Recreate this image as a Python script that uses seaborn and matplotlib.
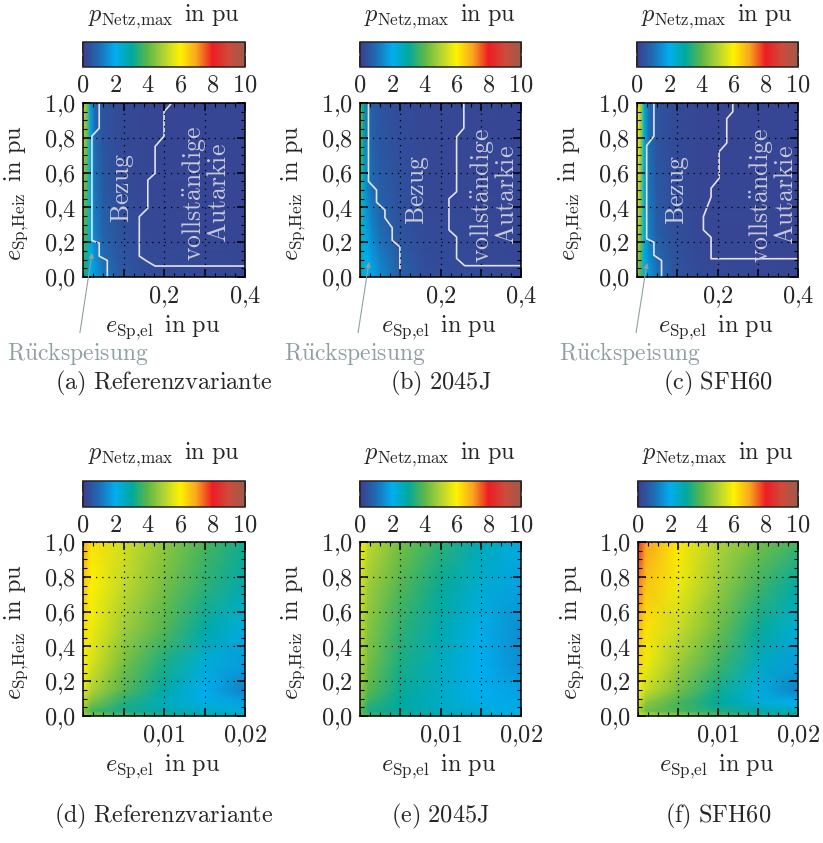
import numpy as np
import pandas as pd
import matplotlib
matplotlib.use("Agg")
import matplotlib.pyplot as plt
import seaborn as sns
from matplotlib.colors import LinearSegmentedColormap
from matplotlib.ticker import FixedLocator, AutoMinorLocator

# ---------------- data ----------------
# colour scale
cbar_ticks = [0, 2, 4, 6, 8, 10]
cmap_nodes = [0, 1, 2, 3, 4, 5, 6, 7, 8, 9, 10]
cmap_hex = ["#3c3d8d", "#1e6db3", "#00aeef", "#00a99d", "#5cb748", "#b2d235",
            "#fff200", "#f9a51e", "#ed1c24", "#cf4a3a", "#9d5b4a"]

# top row grid (x = e_Sp,el, y = e_Sp,Heiz)
top_x = [0, 0.008, 0.018, 0.03, 0.05, 0.09, 0.16, 0.4]
top_y = [0, 0.1, 0.25, 0.5, 0.75, 1.0]
# rows: y from bottom to top, columns: x
p_ref_top = [
    [3.5, 3.0, 2.1, 1.7, 1.2, 0.65, 0.35, 0.2],
    [3.6, 3.2, 2.1, 1.6, 1.0, 0.55, 0.30, 0.2],
    [4.0, 3.6, 2.1, 1.3, 0.8, 0.45, 0.25, 0.2],
    [4.4, 4.0, 2.0, 1.1, 0.6, 0.35, 0.22, 0.2],
    [4.8, 4.3, 1.9, 1.0, 0.5, 0.30, 0.20, 0.2],
    [5.1, 4.6, 1.8, 0.9, 0.45, 0.30, 0.20, 0.2],
]
p_2045_top = [
    [3.0, 2.3, 2.1, 1.9, 1.5, 0.85, 0.40, 0.2],
    [3.2, 2.3, 2.0, 1.7, 1.3, 0.75, 0.35, 0.2],
    [3.5, 2.3, 1.8, 1.4, 1.0, 0.55, 0.30, 0.2],
    [3.8, 2.5, 1.4, 1.0, 0.7, 0.45, 0.25, 0.2],
    [4.2, 2.9, 1.2, 0.8, 0.55, 0.40, 0.25, 0.2],
    [4.4, 3.1, 1.1, 0.7, 0.5, 0.35, 0.25, 0.2],
]
p_sfh_top = [
    [4.6, 3.9, 2.1, 1.7, 1.1, 0.55, 0.30, 0.2],
    [4.9, 4.1, 2.2, 1.5, 0.9, 0.45, 0.25, 0.2],
    [5.3, 4.5, 2.3, 1.3, 0.7, 0.40, 0.22, 0.2],
    [5.6, 4.8, 2.3, 1.1, 0.6, 0.35, 0.20, 0.2],
    [5.9, 5.0, 2.3, 1.0, 0.5, 0.30, 0.20, 0.2],
    [6.1, 5.2, 2.3, 1.0, 0.5, 0.30, 0.20, 0.2],
]

# bottom row grid (zoomed x range)
bot_x = [0, 0.001, 0.005, 0.01, 0.015, 0.02]
bot_y = [0, 0.03, 0.08, 0.15, 0.3, 0.5, 0.75, 1.0]
p_ref_bot = [
    [5.0, 4.6, 4.0, 3.4, 2.9, 2.5],
    [4.5, 3.8, 3.2, 2.8, 2.5, 2.3],
    [5.2, 4.4, 3.4, 2.6, 2.1, 1.8],
    [5.7, 5.0, 3.9, 2.9, 2.0, 1.3],
    [6.0, 5.5, 4.3, 3.3, 2.3, 1.7],
    [6.3, 5.8, 4.8, 3.9, 2.9, 2.2],
    [6.6, 6.0, 5.2, 4.3, 3.5, 2.8],
    [7.0, 6.2, 5.4, 4.6, 3.8, 3.2],
]
p_2045_bot = [
    [4.3, 3.8, 3.3, 2.8, 2.4, 2.2],
    [4.0, 3.3, 3.0, 2.6, 2.3, 2.1],
    [4.5, 3.6, 3.0, 2.5, 2.1, 1.9],
    [4.7, 4.0, 3.1, 2.5, 2.0, 1.8],
    [5.0, 4.3, 3.3, 2.6, 2.0, 1.5],
    [5.2, 4.5, 3.5, 2.8, 2.1, 1.5],
    [5.5, 4.8, 3.9, 3.1, 2.4, 1.8],
    [6.0, 5.2, 4.3, 3.5, 2.7, 2.2],
]
p_sfh_bot = [
    [5.5, 5.2, 4.8, 4.0, 3.4, 3.0],
    [5.0, 4.2, 3.8, 3.3, 2.8, 2.6],
    [5.5, 4.6, 3.8, 3.0, 2.3, 2.0],
    [6.0, 5.3, 4.3, 3.2, 2.2, 1.3],
    [6.4, 5.8, 4.8, 3.7, 2.6, 1.7],
    [6.8, 6.2, 5.3, 4.2, 3.1, 2.3],
    [7.3, 6.6, 5.8, 4.7, 3.7, 2.9],
    [8.2, 7.0, 6.1, 5.0, 4.3, 3.7],
]

# region boundaries (top row): feed-in / draw and draw / full autarky
rueck_ref_x = [0.04, 0.04, 0.022, 0.022, 0.04, 0.04, 0.06, 0.06]
rueck_ref_y = [1.0, 0.855, 0.81, 0.21, 0.195, 0.12, 0.095, 0.0]
autark_ref_x = [0.219, 0.2, 0.2, 0.178, 0.178, 0.16, 0.16, 0.139, 0.139, 0.157, 0.178, 0.4]
autark_ref_y = [1.0, 0.95, 0.81, 0.75, 0.596, 0.557, 0.395, 0.347, 0.12, 0.092, 0.063, 0.063]

rueck_2045_x = [0.021, 0.021, 0.041, 0.041, 0.062, 0.062, 0.08, 0.08, 0.099, 0.099]
rueck_2045_y = [1.0, 0.55, 0.5, 0.43, 0.385, 0.34, 0.283, 0.21, 0.174, 0.0]
autark_2045_x = [0.258, 0.258, 0.24, 0.24, 0.221, 0.221, 0.24, 0.24, 0.26, 0.4]
autark_2045_y = [1.0, 0.855, 0.806, 0.49, 0.45, 0.27, 0.23, 0.107, 0.065, 0.065]

rueck_sfh_x = [0.042, 0.042, 0.024, 0.024, 0.042, 0.042, 0.061, 0.061]
rueck_sfh_y = [1.0, 0.81, 0.755, 0.22, 0.2, 0.125, 0.095, 0.0]
autark_sfh_x = [0.238, 0.238, 0.223, 0.223, 0.204, 0.204, 0.184, 0.184, 0.165, 0.165, 0.184, 0.184, 0.4]
autark_sfh_y = [1.0, 0.95, 0.91, 0.77, 0.72, 0.567, 0.51, 0.46, 0.347, 0.27, 0.228, 0.105, 0.105]

captions = ["(a)\\ Referenzvariante", "(b)\\ 2045J", "(c)\\ SFH60",
            "(d)\\ Referenzvariante", "(e)\\ 2045J", "(f)\\ SFH60"]
y_ticks = [0.0, 0.2, 0.4, 0.6, 0.8, 1.0]
y_ticklabels = ["0,0", "0,2", "0,4", "0,6", "0,8", "1,0"]
top_xticks = [0.1, 0.2, 0.3, 0.4]
top_xticklabels = ["", "0,2", "", "0,4"]
bot_xticks = [0.005, 0.01, 0.015, 0.02]
bot_xticklabels = ["", "0,01", "", "0,02"]

# ---------------- style ----------------
sns.set_style("ticks")
plt.rcParams["font.family"] = ["DejaVu Serif"]
plt.rcParams["mathtext.fontset"] = "cm"

cmap = LinearSegmentedColormap.from_list(
    "pnetz", [(n / 10, c) for n, c in zip(cmap_nodes, cmap_hex)], N=512)

W, H = 823, 843
fig = plt.figure(figsize=(W / 100, H / 100), dpi=100)
FS = 17.5


def add_px_axes(l, t, r, b):
    return fig.add_axes([l / W, 1 - b / H, (r - l) / W, (b - t) / H])


def m(s):
    return "$" + s + "$"


def mrm(s):
    return r"$\mathrm{" + s + "}$"


title_txt = r"$p_{\mathrm{Netz{,}max}}\ \,\mathrm{in\ pu}$"
ylab_txt = r"$e_{\mathrm{Sp{,}Heiz}}\ \,\mathrm{in\ pu}$"
xlab_txt = r"$e_{\mathrm{Sp{,}el}}\ \,\mathrm{in\ pu}$"

lefts = [83, 360, 637]
rights = [245, 521, 798]

panels_top = [p_ref_top, p_2045_top, p_sfh_top]
panels_bot = [p_ref_bot, p_2045_bot, p_sfh_bot]
rueck = [(rueck_ref_x, rueck_ref_y), (rueck_2045_x, rueck_2045_y), (rueck_sfh_x, rueck_sfh_y)]
autark = [(autark_ref_x, autark_ref_y), (autark_2045_x, autark_2045_y), (autark_sfh_x, autark_sfh_y)]

bezug_pos = [(0.245, 0.51), (0.36, 0.5), (0.25, 0.5)]
autark_pos = [(0.755, 0.48), (0.83, 0.47), (0.84, 0.47)]
arrow_head = [(0.056, 0.138), (0.056, 0.086), (0.062, 0.08)]
arrow_tail = [(-0.019, -0.32), (-0.012, -0.32), (-0.006, -0.32)]
rueck_text_x = [-0.03, -0.03, -0.043]

line_col = "#e2e2ea"
label_col = "#c9c9d9"
rueck_col = "#8fa1a3"


def style_axes(ax, xlim, xticks, xticklabels):
    ax.set_xlim(*xlim)
    ax.set_ylim(0, 1)
    ax.xaxis.set_major_locator(FixedLocator(xticks))
    ax.set_xticklabels([m(t.replace(",", "{,}")) if t else "" for t in xticklabels])
    ax.yaxis.set_major_locator(FixedLocator(y_ticks))
    ax.set_yticklabels([m(t.replace(",", "{,}")) for t in y_ticklabels])
    ax.xaxis.set_minor_locator(AutoMinorLocator(4))
    ax.yaxis.set_minor_locator(AutoMinorLocator(4))
    ax.tick_params(which="both", direction="in", top=True, right=True, color="black")
    ax.tick_params(which="major", length=6, width=1.1, labelsize=FS, pad=5)
    ax.tick_params(which="minor", length=3, width=0.8)
    ax.set_axisbelow(False)
    ax.grid(True, which="major", color="black", linestyle=(0, (1, 4)), linewidth=0.9)
    for sp in ax.spines.values():
        sp.set_linewidth(1.1)
        sp.set_color("black")
    ax.text(-0.41, 0.48, ylab_txt, transform=ax.transAxes, rotation=90,
            ha="center", va="center", fontsize=FS)
    ax.text(0.49, -0.29, xlab_txt, transform=ax.transAxes,
            ha="center", va="center", fontsize=FS)


def add_cbar(mesh, l, r, t, b, ax):
    cax = add_px_axes(l, t, r, b)
    cb = fig.colorbar(mesh, cax=cax, orientation="horizontal")
    cb.set_ticks(cbar_ticks)
    cb.set_ticklabels([m(str(v)) for v in cbar_ticks])
    cax.xaxis.set_ticks_position("both")
    cax.tick_params(axis="x", direction="in", length=8, width=1.1, color="black",
                    labelsize=FS, pad=5)
    cax.minorticks_off()
    cb.outline.set_linewidth(1.1)
    cb.outline.set_edgecolor("#222222")


for i in range(3):
    # ---- top row ----
    ax = add_px_axes(lefts[i], 103, rights[i], 277)
    Z = np.array(panels_top[i])
    mesh = ax.pcolormesh(top_x, top_y, Z, cmap=cmap, vmin=0, vmax=10,
                         shading="gouraud", rasterized=True)
    rx, ry = rueck[i]
    sns.lineplot(x=rx, y=ry, sort=False, estimator=None, color=line_col,
                 linewidth=1.2, ax=ax, legend=False)
    axx, axy = autark[i]
    sns.lineplot(x=axx, y=axy, sort=False, estimator=None, color=line_col,
                 linewidth=1.2, ax=ax, legend=False)
    style_axes(ax, (0, 0.4), top_xticks, top_xticklabels)
    bx, by = bezug_pos[i]
    ax.text(bx, by, mrm("Bezug"), transform=ax.transAxes, rotation=90,
            ha="center", va="center", color=label_col, fontsize=FS + 1)
    ax2x, ax2y = autark_pos[i]
    ax.text(ax2x, ax2y, mrm(r"vollst\ddot{a}ndige") + "\n" + mrm("Autarkie"),
            transform=ax.transAxes, rotation=90, ha="center", va="center",
            color=label_col, fontsize=FS + 1, linespacing=0.9, multialignment="center")
    ax.annotate("", xy=arrow_head[i], xycoords="axes fraction",
                xytext=arrow_tail[i], textcoords="axes fraction",
                arrowprops=dict(arrowstyle="-|>", color=rueck_col, lw=0.8,
                                mutation_scale=7, shrinkA=0, shrinkB=0),
                annotation_clip=False)
    ax.text(rueck_text_x[i], -0.44, mrm(r"R\ddot{u}ckspeisung"), transform=ax.transAxes,
            ha="center", va="center", color=rueck_col, fontsize=FS - 0.5)
    ax.text(0.5, -0.61, mrm(captions[i]), transform=ax.transAxes,
            ha="center", va="center", fontsize=FS)
    ax.text(0.5, 1.495, title_txt, transform=ax.transAxes,
            ha="center", va="center", fontsize=FS)
    add_cbar(mesh, lefts[i], rights[i], 42, 67, ax)

    # ---- bottom row ----
    bl = lefts[i] + (1 if i == 2 else 0)
    axb = add_px_axes(bl, 542, rights[i], 716)
    Zb = np.array(panels_bot[i])
    meshb = axb.pcolormesh(bot_x, bot_y, Zb, cmap=cmap, vmin=0, vmax=10,
                           shading="gouraud", rasterized=True)
    style_axes(axb, (0, 0.02), bot_xticks, bot_xticklabels)
    axb.text(0.5, -0.58, mrm(captions[i + 3]), transform=axb.transAxes,
             ha="center", va="center", fontsize=FS)
    axb.text(0.5, 1.5, title_txt, transform=axb.transAxes,
             ha="center", va="center", fontsize=FS)
    add_cbar(meshb, bl, rights[i], 481, 507, axb)

fig.savefig("out.png", dpi=100)
